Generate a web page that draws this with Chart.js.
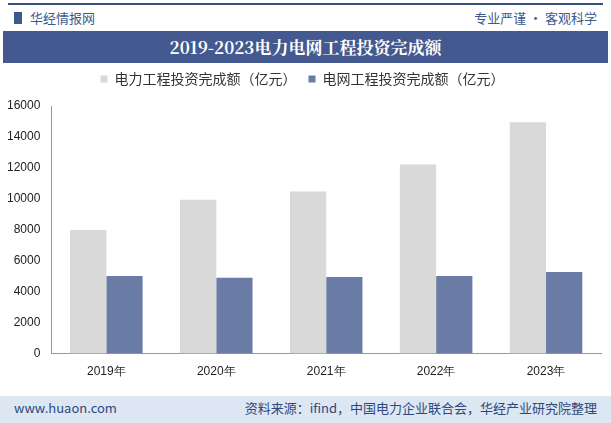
<!DOCTYPE html>
<html><head><meta charset="utf-8">
<script src="https://cdn.jsdelivr.net/npm/chart.js@4"></script>
<style>
body{margin:0;width:611px;height:423px;background:#fff;font-family:"Noto Sans CJK SC",sans-serif;position:relative;overflow:hidden}
.topline{position:absolute;left:8px;right:8px;top:3px;height:2px;background:#3d4f80}
.hdr{position:absolute;top:8px;left:14px;font-size:13px;color:#3d5a8c}
.hdr b{display:inline-block;width:8px;height:12px;background:#3d5a8c;margin-right:8px;vertical-align:-1px}
.hdr2{position:absolute;top:8px;right:14px;font-size:13px;color:#3d5a8c}
.title{position:absolute;left:3px;right:3px;top:31px;height:32px;background:#44598f;color:#fff;font:bold 17px "Noto Serif CJK SC","Noto Sans CJK SC",serif;text-align:center;line-height:32px}
.foot{position:absolute;left:0;right:0;top:396px;height:27px;background:#dde6f3;font-size:13px;color:#2c4a7c;line-height:23px}
.foot span{position:absolute}
#wrap{position:absolute;left:0;top:60px;width:611px;height:324px}
</style></head><body>
<div class="topline"></div>
<div class="hdr"><b></b>华经情报网</div>
<div class="hdr2">专业严谨 • 客观科学</div>
<div class="title">2019-2023电力电网工程投资完成额</div>
<div id="wrap"><canvas id="c"></canvas></div>
<div class="foot"><span style="left:14px">www.huaon.com</span><span style="right:14px">资料来源：ifind，中国电力企业联合会，华经产业研究院整理</span></div>
<script>
const years = ['2019年','2020年','2021年','2022年','2023年'];
const powerInvest = [7995, 9944, 10481, 12220, 14950];
const gridInvest = [5012, 4896, 4951, 5012, 5275];

new Chart(document.getElementById('c'), {
  type: 'bar',
  data: {
    labels: years,
    datasets: [
      {label: '电力工程投资完成额（亿元）', data: powerInvest, backgroundColor: '#d9d9d9', categoryPercentage: 0.66, barPercentage: 1},
      {label: '电网工程投资完成额（亿元）', data: gridInvest, backgroundColor: '#6a7ba6', categoryPercentage: 0.66, barPercentage: 1}
    ]
  },
  options: {
    responsive: true, maintainAspectRatio: false, animation: false,
    layout: {padding: {left: 4, right: 10, bottom: 2}},
    plugins: {
      legend: {labels: {boxWidth: 7, boxHeight: 7, font: {size: 14, family: 'Noto Sans CJK SC'}, color: '#333', padding: 12}},
      tooltip: {enabled: false}
    },
    scales: {
      x: {grid: {display: false}, border: {color: '#999'}, ticks: {color: '#222', font: {size: 12}}},
      y: {min: 0, max: 16000, ticks: {stepSize: 2000, color: '#222', font: {size: 12}, callback: v => String(v)}, grid: {display: false}, border: {color: '#999'}}
    }
  },
  plugins: [{id: 'legendGap', beforeInit(chart) {
    const fit = chart.legend.fit;
    chart.legend.fit = function() { fit.bind(chart.legend)(); this.height += 10; };
  }}]
});
</script>
</body></html>
